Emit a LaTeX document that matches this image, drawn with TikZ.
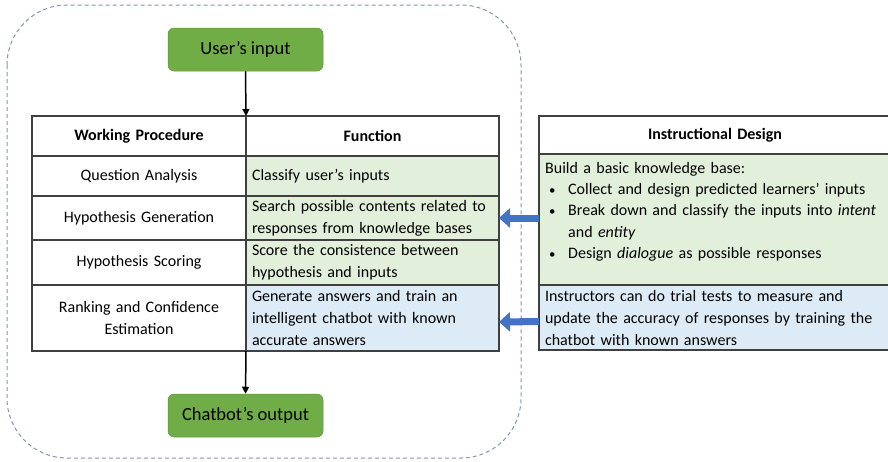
\documentclass[tikz,border=0pt]{standalone}
\usepackage{fontspec}
\setmainfont{Carlito}
\usetikzlibrary{arrows.meta}
\definecolor{boxgreen}{HTML}{70AD47}
\definecolor{cellgreen}{HTML}{E2EFDA}
\definecolor{cellblue}{HTML}{DDEBF7}
\definecolor{tablegrey}{HTML}{404040}
\definecolor{dashgrey}{HTML}{8497B0}
\definecolor{arrowblue}{HTML}{4472C4}
\newcommand{\blt}{\hspace*{4pt}\makebox[19pt][l]{\scalebox{0.8}{•}}}
\begin{document}
\begin{tikzpicture}[x=1pt,y=-1pt,
  cell/.style={draw=tablegrey, line width=1.1pt, anchor=north west, inner xsep=0pt, inner ysep=0pt, outer sep=0pt,
    font=\fontsize{16}{22}\selectfont},
  lcell/.style={cell, minimum width=214pt, text width=208pt, align=center},
  rcell/.style={cell, minimum width=253pt, text width=241pt, align=left},
  gbox/.style={fill=boxgreen, draw=boxgreen!85!black, line width=0.5pt, rounded corners=6pt, minimum width=155pt, minimum height=43pt,
    font=\fontsize{18.5}{22}\selectfont},
  blackarrow/.style={line width=1.5pt, -{Triangle[length=7pt,width=7pt]}},
  bluearrow/.style={draw=arrowblue, line width=7pt, -{Triangle[length=11pt,width=19pt]}},
  dashbox/.style={draw=dashgrey, line width=1pt, dash pattern=on 4pt off 3pt, rounded corners=60pt}
]
\useasboundingbox (0,0) rectangle (888,461);

% outer dashed frame
\draw[dashbox] (7,5) rectangle (521,458);

% green terminals
\node[gbox] (user) at (245.5,49.5) {User’s input};
\node[gbox] (output) at (245.5,415.5) {Chatbot’s output};

% left table
\node[lcell, minimum height=40pt, font=\fontsize{16}{22}\selectfont\bfseries] (hdrL) at (32,116) {Working Procedure};
\node[cell, minimum width=253pt, text width=241pt, align=center, minimum height=40pt, font=\fontsize{16}{22}\selectfont\bfseries] (hdrF) at (246,116) {Function};

\node[lcell, minimum height=40pt] (rowL1) at (32,156) {Question Analysis};
\node[rcell, minimum height=40pt, fill=cellgreen] (rowF1) at (246,156) {Classify user’s inputs};

\node[lcell, minimum height=44pt] (rowL2) at (32,196) {Hypothesis Generation};
\node[rcell, minimum height=44pt, fill=cellgreen] (rowF2) at (246,196) {Search possible contents related to\\responses from knowledge bases};

\node[lcell, minimum height=45pt] (rowL3) at (32,240) {Hypothesis Scoring};
\node[rcell, minimum height=45pt, fill=cellgreen] (rowF3) at (246,240) {Score the consistence between\\hypothesis and inputs};

\node[lcell, minimum height=66pt] (rowL4) at (32,285) {Ranking and Confidence\\Estimation};
\node[rcell, minimum height=66pt, fill=cellblue] (rowF4) at (246,285) {Generate answers and train an\\intelligent chatbot with known\\accurate answers};

% right table
\node[cell, minimum width=352pt, text width=340pt, align=center, minimum height=38pt, font=\fontsize{16}{22}\selectfont\bfseries] (hdrI) at (539,116) {Instructional Design};
\node[cell, minimum width=352pt, minimum height=131pt, fill=cellgreen] (instrG) at (539,154) {};
\node[anchor=north west, inner sep=0pt, text width=340pt, align=left, font=\fontsize{16}{21.3}\selectfont] (instrText) at (545,162)
 {Build a basic knowledge base:\par
  \hangindent=23pt\hangafter=1\blt Collect and design predicted learners’ inputs\par
  \hangindent=23pt\hangafter=1\blt Break down and classify the inputs into \textit{intent} and \textit{entity}\par
  \hangindent=23pt\hangafter=1\blt Design \textit{dialogue} as possible responses\par};
\node[cell, minimum width=352pt, text width=340pt, align=left, minimum height=65pt, fill=cellblue] (instrB) at (539,285)
 {Instructors can do trial tests to measure and\\update the accuracy of responses by training the\\chatbot with known answers};

% connectors
\draw[blackarrow] (user.south) -- (hdrL.north east);
\draw[blackarrow] (rowL4.south east) -- (output.north);
\draw[bluearrow] (instrG.west |- rowF2.east) -- (rowF2.east);
\draw[bluearrow] ([yshift=-4pt]instrB.west) -- ([yshift=-4pt]rowF4.east);
\end{tikzpicture}
\end{document}
